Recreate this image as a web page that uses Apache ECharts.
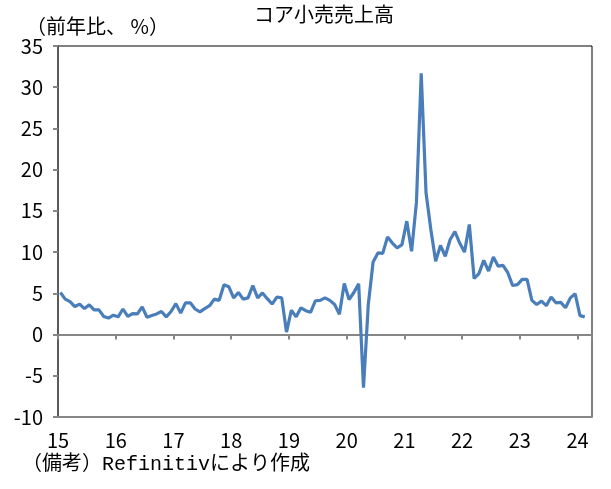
<!DOCTYPE html>
<html>
<head>
<meta charset="utf-8">
<script src="https://cdn.jsdelivr.net/npm/echarts@6/dist/echarts.min.js"></script>
<style>
  html, body { margin: 0; padding: 0; background: #fff; }
  #chart { width: 611px; height: 489px; }
</style>
</head>
<body>
<div id="chart"></div>
<script>
// 月次 2015年1月〜2024年2月（前年比、%）
const yearLabels = ['15', '16', '17', '18', '19', '20', '21', '22', '23', '24'];
const coreRetail = [
  5.1, 4.3, 4.0, 3.4, 3.7, 3.15, 3.6, 3.0, 3.0, 2.2, 2.0, 2.35,
  2.15, 3.1, 2.2, 2.55, 2.5, 3.35, 2.1, 2.3, 2.5, 2.8, 2.15, 2.8,
  3.75, 2.6, 3.85, 3.85, 3.1, 2.75, 3.15, 3.5, 4.3, 4.15, 6.05, 5.8,
  4.45, 5.1, 4.3, 4.45, 5.95, 4.45, 5.05, 4.35, 3.7, 4.55, 4.45, 0.3,
  2.95, 2.15, 3.25, 2.9, 2.7, 4.1, 4.15, 4.45, 4.15, 3.65, 2.45, 6.2,
  4.25, 5.1, 6.15, -6.45, 3.65, 8.8, 9.9, 9.85, 11.85, 11.1, 10.5, 10.9,
  13.75, 10.1, 16.0, 31.7, 17.2, 12.75, 8.9, 10.8, 9.5, 11.5, 12.5, 11.1,
  10.0, 13.35, 6.8, 7.4, 9.0, 7.7, 9.4, 8.3, 8.4, 7.5, 5.95, 6.05,
  6.7, 6.7, 4.15, 3.65, 4.05, 3.5, 4.55, 3.85, 3.9, 3.25, 4.45, 4.95,
  2.3, 2.15
];

const chart = echarts.init(document.getElementById('chart'));
const font = '"Noto Sans CJK JP", "Noto Sans", sans-serif';
const monoFont = '"Liberation Mono", "Noto Sans CJK JP", monospace';
const axisGray = '#868686';

chart.setOption({
  animation: false,
  textStyle: { fontFamily: font },
  grid: {
    left: 58, right: 19, top: 46, bottom: 72,
    show: true, borderColor: '#000', borderWidth: 1
  },
  graphic: [
    { type: 'text', left: 254, top: 4,
      style: { text: 'コア小売売上高', font: '20px ' + font, fill: '#000' } },
    { type: 'text', left: 26, top: 16,
      style: { text: '（前年比、 %）', font: '20px ' + font, fill: '#000' } },
    { type: 'text', left: 22, top: 455,
      style: { text: '（備考）Refinitivにより作成', font: '20px ' + monoFont, fill: '#000' } }
  ],
  xAxis: [
    {
      type: 'value', min: 0, max: 111, interval: 12, position: 'bottom',
      axisLine: { onZero: false, lineStyle: { color: axisGray, width: 2 } },
      axisTick: { show: false },
      splitLine: { show: false },
      axisLabel: {
        margin: 13, fontSize: 20, color: '#000', fontFamily: font,
        formatter: v => (v % 12 === 0 && v / 12 < yearLabels.length) ? yearLabels[v / 12] : ''
      }
    },
    {
      type: 'value', min: 0, max: 111, interval: 12, position: 'bottom',
      axisLine: { onZero: true, lineStyle: { color: axisGray, width: 2 } },
      axisTick: { show: true, length: 5, lineStyle: { color: axisGray, width: 2 } },
      splitLine: { show: false },
      axisLabel: { show: false }
    }
  ],
  yAxis: [
    {
      type: 'value', min: -10, max: 35, interval: 5,
      axisLine: { show: true, lineStyle: { color: axisGray, width: 2 } },
      axisTick: { show: true, length: 5, lineStyle: { color: axisGray, width: 2 } },
      splitLine: { show: false },
      axisLabel: { margin: 15, fontSize: 20, color: '#000', fontFamily: font }
    },
    {
      type: 'value', min: -10, max: 35, interval: 5, position: 'right',
      axisLine: { show: true, lineStyle: { color: '#5a5a5a', width: 2 } },
      axisTick: { show: false },
      splitLine: { show: false },
      axisLabel: { show: false }
    }
  ],
  series: [
    {
      type: 'line',
      xAxisIndex: 0,
      yAxisIndex: 0,
      data: coreRetail.map((v, i) => [i + 0.5, v]),
      showSymbol: false,
      lineStyle: { color: '#4a7ebb', width: 3.2 },
      z: 5
    }
  ]
});
</script>
</body>
</html>
